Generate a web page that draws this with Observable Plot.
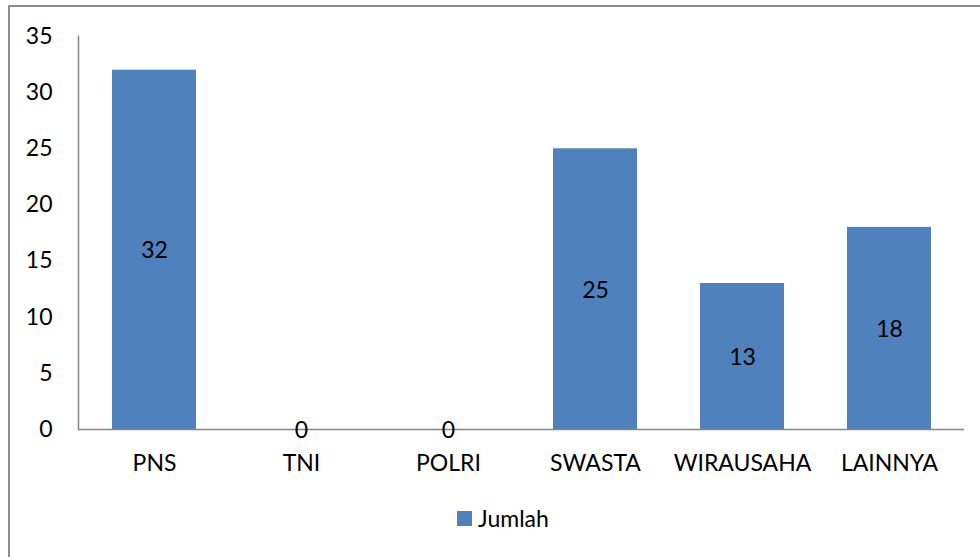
<!DOCTYPE html>
<html>
<head>
<meta charset="utf-8">
<script src="https://cdn.jsdelivr.net/npm/d3@7"></script>
<script src="https://cdn.jsdelivr.net/npm/@observablehq/plot@0.6"></script>
<style>
  html, body { margin: 0; padding: 0; background: #fff; overflow: hidden; width: 980px; height: 557px; }
  #frame { position: absolute; left: 8px; top: 5px; width: 1100px; height: 700px; border-left: 2px solid #8c8c8c; border-top: 2px solid #8c8c8c; }
  #chart { position: absolute; left: 0; top: 0; }
  #legend { position: absolute; left: 457px; top: 504px; font-family: Lato, "Open Sans", sans-serif; font-size: 23px; color: #000; display: flex; align-items: center; gap: 6px; }
  #legend .sw { width: 15px; height: 15px; background: #4F81BD; display: inline-block; }
</style>
</head>
<body>
<div id="frame"></div>
<div id="chart"></div>
<div id="legend"><span class="sw"></span><span id="legendLabel"></span></div>
<script>
const categories = ["PNS", "TNI", "POLRI", "SWASTA", "WIRAUSAHA", "LAINNYA"];
const values = [32, 0, 0, 25, 13, 18];
const yTicks = [0, 5, 10, 15, 20, 25, 30, 35];
const seriesName = "Jumlah";

const data = categories.map((c, i) => ({category: c, value: values[i]}));
const barColor = "#4F81BD";
const axisColor = "#868686";
const font = "Lato, 'Open Sans', sans-serif";

const plot = Plot.plot({
  width: 980,
  height: 490,
  marginLeft: 78,
  marginRight: 16,
  marginTop: 36,
  marginBottom: 61,
  style: {fontFamily: font, fontSize: "23px", color: "#000", background: "transparent"},
  x: {domain: categories, paddingInner: 0.43, paddingOuter: 0.215, label: null},
  y: {domain: [0, 35], label: null},
  marks: [
    Plot.barY(data, {x: "category", y: "value", fill: barColor}),
    Plot.ruleY([0], {stroke: axisColor, strokeWidth: 1.5}),
    Plot.frame({anchor: "left", stroke: axisColor, strokeWidth: 1.5}),
    Plot.axisY({ticks: yTicks, tickSize: 0, tickPadding: 26, fontSize: 23, label: null}),
    Plot.axisX({tickSize: 0, tickPadding: 25, fontSize: 23, label: null}),
    Plot.text(data, {x: "category", y: d => d.value / 2, text: d => String(d.value), fontSize: 23, fill: "#000", dy: 1})
  ]
});
document.getElementById("chart").appendChild(plot);
document.getElementById("legendLabel").textContent = seriesName;
</script>
</body>
</html>
